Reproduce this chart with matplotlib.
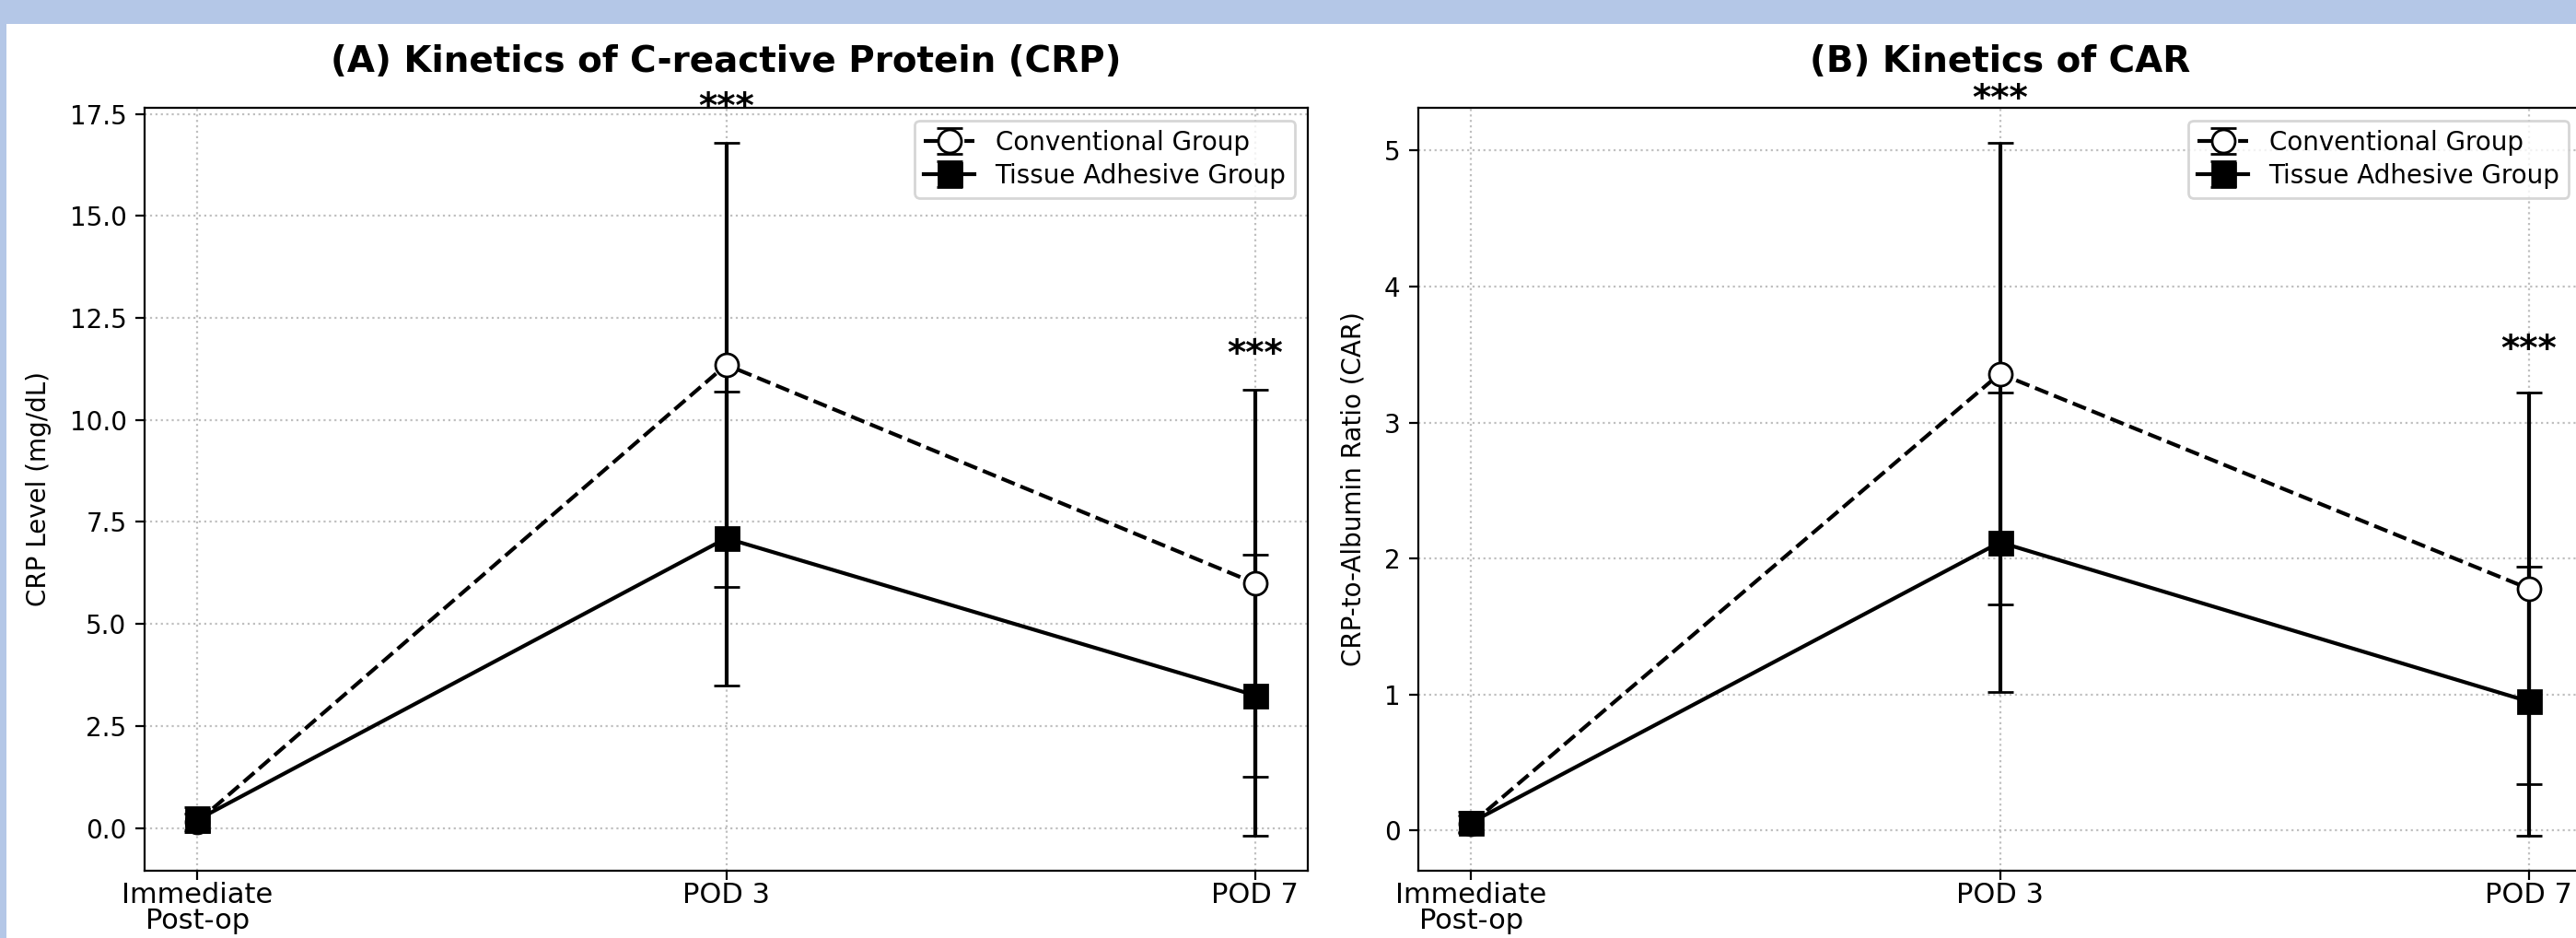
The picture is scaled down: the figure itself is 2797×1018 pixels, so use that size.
import numpy as np
import matplotlib
matplotlib.use("Agg")
from matplotlib import pyplot as plt
from matplotlib.patches import Rectangle

# time points
time_labels = ["Immediate\nPost-op", "POD 3", "POD 7"]
sig_marks = ["", "***", "***"]

# CRP (mg/dL), mean and SD
crp_conv_mean = [0.15, 11.35, 6.0]
crp_conv_sd = [0.2, 5.45, 4.75]
crp_tissue_mean = [0.2, 7.1, 3.25]
crp_tissue_sd = [0.3, 3.6, 3.45]

# CRP-to-albumin ratio, mean and SD
car_conv_mean = [0.05, 3.36, 1.78]
car_conv_sd = [0.06, 1.7, 1.44]
car_tissue_mean = [0.06, 2.12, 0.95]
car_tissue_sd = [0.08, 1.1, 0.99]

W, H, DPI = 2797, 1018, 200
fig = plt.figure(figsize=(W / DPI, H / DPI), dpi=DPI)
fig.patch.set_facecolor("#b4c7e7")
# white page area (blue strip on top and left)
page = Rectangle((7 / W, 0), 1, (H - 26) / H, transform=fig.transFigure,
                 facecolor="white", edgecolor="none", zorder=-10)
fig.patches.append(page)

ax_w = 1263 / W
ax_b = (H - 945) / H
ax_h = (945 - 117) / H
ax1 = fig.add_axes([157 / W, ax_b, ax_w, ax_h])
ax2 = fig.add_axes([1540 / W, ax_b, ax_w, ax_h])


def draw_panel(ax, conv_m, conv_s, tis_m, tis_s, title, ylabel, star_frac):
    x = np.arange(len(time_labels))
    ax.errorbar(x, conv_m, yerr=conv_s, fmt="o--", color="black", mfc="white", mec="black",
                ms=9, lw=1.5, elinewidth=1.5, capsize=5, capthick=1, label="Conventional Group")
    ax.errorbar(x, tis_m, yerr=tis_s, fmt="s-", color="black", mfc="black", mec="black",
                ms=9, lw=1.5, elinewidth=1.5, capsize=5, capthick=1, label="Tissue Adhesive Group")
    tops = np.maximum(np.array(conv_m) + np.array(conv_s), np.array(tis_m) + np.array(tis_s))
    off = star_frac * tops.max()
    for i, s in enumerate(sig_marks):
        if s:
            ax.text(x[i], tops[i] + off, s, ha="center", va="center", fontsize=14,
                    fontweight="bold")
    ax.set_xticks(x)
    ax.set_xticklabels(time_labels, fontsize=11)
    for lab in ax.get_xticklabels():
        lab.set_linespacing(0.95)
    ax.tick_params(axis="x", pad=1)
    ax.tick_params(axis="y", labelsize=10)
    ax.set_ylabel(ylabel, fontsize=10, labelpad=7)
    ax.set_title(title, fontsize=14, fontweight="bold", pad=14)
    ax.grid(True, linestyle=":", color="gray", alpha=0.5, lw=0.8)
    ax.legend(loc="upper right", fontsize=10, labelspacing=0.3, borderpad=0.35)


draw_panel(ax1, crp_conv_mean, crp_conv_sd, crp_tissue_mean, crp_tissue_sd,
           "(A) Kinetics of C-reactive Protein (CRP)", "CRP Level (mg/dL)", 0.05)
draw_panel(ax2, car_conv_mean, car_conv_sd, car_tissue_mean, car_tissue_sd,
           "(B) Kinetics of CAR", "CRP-to-Albumin Ratio (CAR)", 0.062)

fig.savefig("out.png", dpi=DPI, facecolor=fig.get_facecolor())
